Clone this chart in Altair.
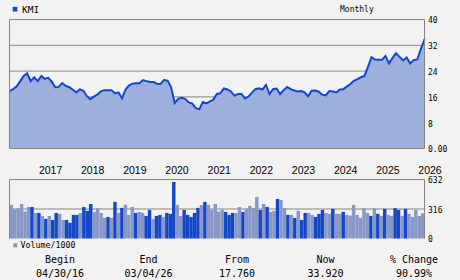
import altair as alt
import pandas as pd

# ---------------- data ----------------
ticker = "KMI"
period = "Monthly"
vol_title = "Volume/1000"

prices = [
    17.76, 18.4, 19.2, 20.8, 22.5, 23.3, 20.9, 22.1, 20.9, 22.5,
    21.6, 21.9, 20.8, 19.0, 19.1, 20.3, 19.4, 19.0, 18.2, 17.4,
    18.3, 17.9, 16.3, 15.3, 16.1, 16.7, 17.7, 18.1, 18.1, 18.1,
    17.1, 17.4, 15.6, 18.3, 19.5, 20.1, 20.2, 20.2, 21.2, 20.9,
    20.6, 20.6, 20.1, 20.0, 21.3, 21.0, 19.0, 14.1, 15.4, 15.7,
    15.4, 14.3, 13.9, 12.5, 12.2, 14.4, 14.0, 14.6, 15.1, 16.9,
    17.1, 18.6, 18.3, 17.7, 16.4, 16.9, 16.9, 15.5, 16.1, 17.4,
    18.4, 18.7, 18.3, 19.7, 16.9, 18.4, 18.6, 16.9, 18.1, 19.1,
    18.4, 18.0, 17.7, 17.8, 17.4, 16.2, 17.9, 18.0, 17.6, 16.7,
    16.5, 17.8, 17.7, 17.4, 18.3, 18.4, 19.2, 20.0, 21.0, 21.5,
    22.1, 22.5, 25.4, 28.3, 27.6, 27.5, 27.5, 28.7, 26.4, 28.1,
    29.5, 28.4, 27.3, 28.2, 26.4, 27.4, 27.6, 30.8, 33.4, 33.92,
]

volumes = [
    360, 310, 324, 370, 289, 338, 338, 274, 274, 242,
    210, 242, 199, 274, 264, 199, 199, 168, 253, 253,
    274, 338, 296, 370, 285, 324, 274, 221, 231, 221,
    392, 274, 328, 360, 253, 338, 274, 285, 274, 242,
    306, 210, 242, 253, 231, 274, 264, 605, 360, 242,
    306, 253, 231, 274, 328, 360, 392, 360, 306, 370,
    289, 306, 285, 253, 274, 274, 338, 285, 321, 349,
    328, 445, 306, 370, 338, 285, 296, 424, 413, 328,
    253, 253, 221, 296, 199, 274, 274, 253, 231, 264,
    306, 274, 264, 317, 264, 264, 285, 253, 246, 360,
    253, 221, 324, 274, 242, 324, 264, 242, 317, 253,
    242, 324, 306, 242, 317, 264, 231, 306, 242, 270,
]

vol_tone = list(
    "LLLLLLDLDL" "DLDDLLDDDD" "LDDDLLLLDL" "DLDLLLDLLD"
    "DLDDLDDDLL" "DDDDDLDLLL" "LLDDDLLDLL" "LLDLDLLDLL"
    "DLDLDDLLDD" "DLLDLLDLLL" "LLLLDLDLDL" "LDDLDLLLLL"
)

year_labels = [str(y) for y in range(2017, 2027)]
price_ticks = [40, 32, 24, 16, 8, 0]
price_tick_text = ["40", "32", "24", "16", "8", "0.00"]
vol_ticks = [632, 316, 0]
vol_tick_text = ["632", "316", "0"]
table_headers = ["Begin", "End", "From", "Now", "% Change"]
table_values = ["04/30/16", "03/04/26", "17.760", "33.920", "90.99%"]

# ---------------- tables ----------------
dates = list(pd.date_range("2016-04-01", periods=119, freq="MS") + pd.offsets.MonthEnd(0))
dates.append(pd.Timestamp("2026-03-04"))

price_df = pd.DataFrame({"date": dates, "price": prices})
vol_df = pd.DataFrame({"idx": list(range(len(volumes))), "vol": volumes, "tone": vol_tone})
year_df = pd.DataFrame({"d": [pd.Timestamp(f"{y}-01-01") for y in year_labels], "t": year_labels})
ptick_df = pd.DataFrame({"v": price_ticks, "t": price_tick_text})
vtick_df = pd.DataFrame({"v": vol_ticks, "t": vol_tick_text})
table_df = pd.DataFrame({"h": table_headers, "val": table_values})
one = pd.DataFrame({"k": [0]})

# ---------------- styles ----------------
BG = "#F2F2F2"
GRID = "#858585"
LINE = "#1446CC"
AREA = "#9DAFDC"
DARK = "#1446C8"
LIGHT = "#8798C6"
MONO = "DejaVu Sans Mono"

X0, X1 = 9.5, 424.5
xs = alt.Scale(
    domain=[alt.DateTime(year=2016, month=4, date=30), alt.DateTime(year=2026, month=3, date=4)],
    range=[X0, X1], nice=False,
)
yp = alt.Scale(domain=[0, 40], range=[148.5, 19.5], nice=False, zero=False)
yv = alt.Scale(domain=[0, 632], range=[238.5, 179.5], nice=False, zero=False)

# ---------------- price panel ----------------
grid_p = alt.Chart(pd.DataFrame({"v": [8, 16, 24, 32]})).mark_rule(color=GRID, strokeWidth=1).encode(
    y=alt.Y("v:Q", scale=yp, axis=None), x=alt.value(X0), x2=alt.value(X1)
)
area = alt.Chart(price_df).mark_area(color=AREA).encode(
    x=alt.X("date:T", scale=xs, axis=None), y=alt.Y("price:Q", scale=yp, axis=None)
)
line = alt.Chart(price_df).mark_line(color=LINE, strokeWidth=2).encode(
    x=alt.X("date:T", scale=xs, axis=None), y=alt.Y("price:Q", scale=yp, axis=None)
)
frame_h = alt.Chart(pd.DataFrame({"v": [0, 40]})).mark_rule(color=GRID, strokeWidth=1).encode(
    y=alt.Y("v:Q", scale=yp, axis=None), x=alt.value(X0), x2=alt.value(X1)
)
frame_v = alt.Chart(pd.DataFrame({"x": [X0, X1]})).mark_rule(color=GRID, strokeWidth=1).encode(
    x=alt.X("x:Q", scale=alt.Scale(domain=[0, 460], range=[0, 460], nice=False, zero=False), axis=None),
    y=alt.value(19.5), y2=alt.value(148.5),
)
ptick = alt.Chart(ptick_df).mark_text(align="left", baseline="alphabetic", dy=3.8, font=MONO, fontSize=8, color="#000").encode(
    y=alt.Y("v:Q", scale=yp, axis=None), x=alt.value(428), text="t:N"
)
years = alt.Chart(year_df).mark_text(align="left", baseline="alphabetic", dx=1, font="Liberation Sans", fontSize=10.5, color="#000").encode(
    x=alt.X("d:T", scale=xs, axis=None), y=alt.value(174), text="t:N"
)

# ---------------- volume panel ----------------
grid_v = alt.Chart(pd.DataFrame({"v": [316]})).mark_rule(color=GRID, strokeWidth=1).encode(
    y=alt.Y("v:Q", scale=yv, axis=None), x=alt.value(X0), x2=alt.value(X1)
)
bars = alt.Chart(vol_df).mark_bar().encode(
    x=alt.X("idx:O", scale=alt.Scale(type="band", range=[X0, X1], paddingInner=0, paddingOuter=0), axis=None),
    y=alt.Y("vol:Q", scale=yv, axis=None),
    color=alt.Color("tone:N", scale=alt.Scale(domain=["D", "L"], range=[DARK, LIGHT]), legend=None),
)
frame_vt = alt.Chart(pd.DataFrame({"v": [632]})).mark_rule(color=GRID, strokeWidth=1).encode(
    y=alt.Y("v:Q", scale=yv, axis=None), x=alt.value(X0), x2=alt.value(X1)
)
frame_vv = alt.Chart(pd.DataFrame({"x": [X0, X1]})).mark_rule(color=GRID, strokeWidth=1).encode(
    x=alt.X("x:Q", scale=alt.Scale(domain=[0, 460], range=[0, 460], nice=False, zero=False), axis=None),
    y=alt.value(179.5), y2=alt.value(238.5),
)
vtick = alt.Chart(vtick_df).mark_text(align="left", baseline="alphabetic", dy=3.8, font=MONO, fontSize=8, color="#000").encode(
    y=alt.Y("v:Q", scale=yv, axis=None), x=alt.value(428), text="t:N"
)

# ---------------- titles / legends ----------------
sq_k = alt.Chart(one).mark_square(color=DARK, size=22, opacity=1).encode(x=alt.value(15), y=alt.value(9.2))
t_k = alt.Chart(one).mark_text(text=ticker, align="left", baseline="alphabetic", font=MONO, fontSize=9.5, color="#000").encode(
    x=alt.value(22), y=alt.value(12.7)
)
t_m = alt.Chart(one).mark_text(text=period, align="left", baseline="alphabetic", font=MONO, fontSize=8, color="#000").encode(
    x=alt.value(340), y=alt.value(12)
)
sq_v = alt.Chart(one).mark_square(color=LIGHT, size=16, opacity=1).encode(x=alt.value(15.3), y=alt.value(245.3))
t_v = alt.Chart(one).mark_text(text=vol_title, align="left", baseline="alphabetic", font=MONO, fontSize=8.3, color="#000").encode(
    x=alt.value(20.5), y=alt.value(248)
)

# ---------------- bottom table ----------------
tx = alt.Scale(type="point", domain=table_headers, range=[60, 414], padding=0)
t_head = alt.Chart(table_df).mark_text(align="center", baseline="alphabetic", font=MONO, fontSize=10, color="#000").encode(
    x=alt.X("h:N", scale=tx, axis=None, sort=None), y=alt.value(262.5), text="h:N"
)
t_val = alt.Chart(table_df).mark_text(align="center", baseline="alphabetic", font=MONO, fontSize=10, color="#000").encode(
    x=alt.X("h:N", scale=tx, axis=None, sort=None), y=alt.value(276.5), text="val:N"
)

chart = (
    alt.layer(
        grid_p, area, line, frame_h, frame_v, ptick, years,
        grid_v, bars, frame_vt, frame_vv, vtick,
        sq_k, t_k, t_m, sq_v, t_v, t_head, t_val,
    )
    .resolve_scale(x="independent", y="independent", color="independent")
    .properties(width=460, height=280, padding=0, autosize=alt.AutoSizeParams(type="none"), background=BG)
    .configure_view(strokeWidth=0)
)

chart.save("out.html", embed_options={"renderer": "svg", "actions": False})
